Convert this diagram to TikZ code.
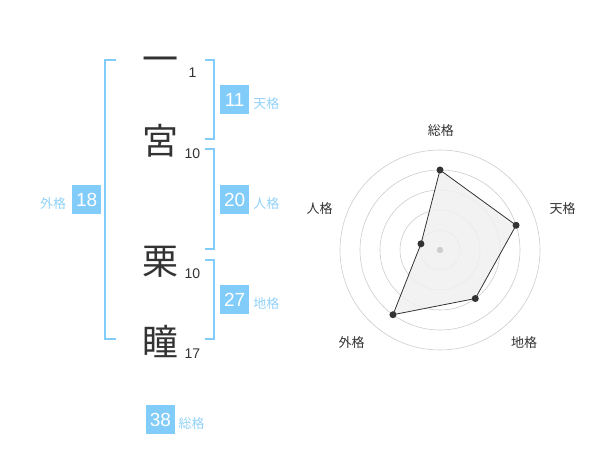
\documentclass[tikz,border=0pt]{standalone}
\usepackage{fontspec}
\setmainfont{Liberation Sans}
\newfontfamily\cjk{Noto Sans CJK JP}
\begin{document}
\begin{tikzpicture}[x=1pt,y=-1pt,
  bl/.style={draw=brk,line width=2pt},
  kanji/.style={font=\cjk\fontsize{36}{36}\selectfont,text=ink,inner sep=0pt,text height=31.7pt,text depth=4.3pt},
  strokes/.style={font=\fontsize{14}{14}\selectfont,text=ink,inner sep=0pt,anchor=base},
  numbox/.style={fill=brk,text=white,minimum size=29pt,inner sep=0pt,font=\fontsize{19}{19}\selectfont},
  lab/.style={font=\cjk\fontsize{13}{13}\selectfont,text=labc,inner sep=0pt,text height=11.4pt,text depth=1.6pt},
  rlab/.style={font=\cjk\fontsize{13}{13}\selectfont,text=ink,inner sep=0pt,text height=11.4pt,text depth=1.6pt},
  ring/.style={draw=ringc,line width=0.6pt},
  dot/.style={circle,fill=ink,inner sep=0pt,minimum size=7pt}
]
\definecolor{brk}{HTML}{82CCFA}
\definecolor{labc}{HTML}{92D2F8}
\definecolor{ink}{HTML}{333333}
\definecolor{ringc}{HTML}{CCCCCC}
\definecolor{polyc}{HTML}{F0F0F0}
\useasboundingbox (0,0) rectangle (600,470);
% characters
\node[kanji] (c1) at (160,58.7) {一};
\node[kanji] (c2) at (160,141) {宮};
\node[kanji] (c3) at (160,260.5) {栗};
\node[kanji] (c4) at (160,341.7) {瞳};
\node[strokes] (s1) at (192.5,77.7) {1};
\node[strokes] (s2) at (192.5,158.3) {10};
\node[strokes] (s3) at (192.5,278.3) {10};
\node[strokes] (s4) at (192.5,358.3) {17};
% brackets
\draw[bl] (116,60) -- (105,60) -- (105,339.3) -- (116,339.3);
\draw[bl] (205,60) -- (214.3,60) -- (214.3,139.3) -- (205,139.3);
\draw[bl] (205,149.3) -- (214.3,149.3) -- (214.3,249.3) -- (205,249.3);
\draw[bl] (205,260) -- (214.3,260) -- (214.3,339.3) -- (205,339.3);
% boxes
\node[numbox] (b11) at (234.7,99.5) {11};
\node[numbox] (b20) at (234.7,200) {20};
\node[numbox] (b18) at (86.7,200) {18};
\node[numbox] (b27) at (234.7,300) {27};
\node[numbox] (b38) at (160.5,419.5) {38};
\node[lab] (l11) at (266.3,103.8) {天格};
\node[lab] (l20) at (266.3,204) {人格};
\node[lab] (l18) at (53.2,204) {外格};
\node[lab] (l27) at (266.3,304) {地格};
\node[lab] (l38) at (191.5,423.5) {総格};
% radar
\coordinate (o) at (440,250);
\foreach \r in {20,40,60,80,100} \draw[ring] (o) circle[radius=\r pt];
\path (o) ++(90:80pt) coordinate (p1);
\path (o) ++(18:80pt) coordinate (p2);
\path (o) ++(-54:60pt) coordinate (p3);
\path (o) ++(-126:80pt) coordinate (p4);
\path (o) ++(162:20pt) coordinate (p5);
\draw[fill=polyc,fill opacity=0.85,draw=ink,line width=0.8pt] (p1) -- (p2) -- (p3) -- (p4) -- (p5) -- cycle;
\fill[ringc] (o) circle[radius=3.2pt];
\foreach \p in {p1,p2,p3,p4,p5} \node[dot] (d\p) at (\p) {};
\node[rlab] (r1) at (440.8,130.8) {総格};
\node[rlab] (r2) at (562.5,208.7) {天格};
\node[rlab] (r3) at (524.2,342.5) {地格};
\node[rlab] (r4) at (351.7,342.5) {外格};
\node[rlab] (r5) at (319.5,208.7) {人格};
\end{tikzpicture}
\end{document}
